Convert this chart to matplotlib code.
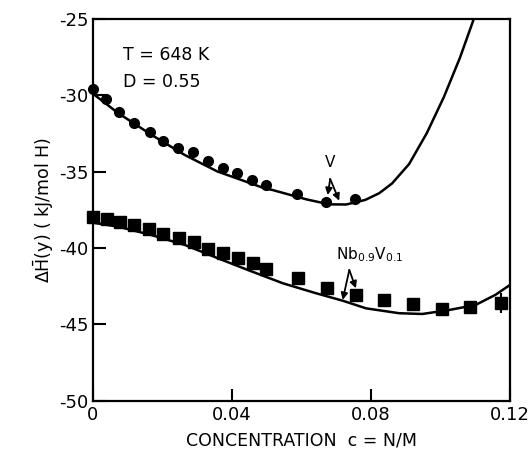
import numpy as np
import matplotlib
matplotlib.use("Agg")
import matplotlib.pyplot as plt

# measured points, V
v_c = [0, 0.0037, 0.0076, 0.0119, 0.0166, 0.0202, 0.0245, 0.0288, 0.0333, 0.0374,
       0.0415, 0.0459, 0.0499, 0.0587, 0.0671, 0.0754]
v_h = [-29.60, -30.26, -31.07, -31.79, -32.42, -32.97, -33.47, -33.73, -34.30, -34.78,
       -35.07, -35.54, -35.90, -36.46, -37.00, -36.81]

# measured points, Nb0.9V0.1
nb_c = [0, 0.004, 0.008, 0.0119, 0.0162, 0.0202, 0.0247, 0.029, 0.0331, 0.0374, 0.0417,
        0.046, 0.0498, 0.059, 0.0673, 0.0757, 0.0838, 0.0921, 0.1004, 0.1084, 0.1173]
nb_h = [-37.95, -38.12, -38.27, -38.49, -38.77, -39.08, -39.36, -39.58, -40.08, -40.30, -40.67,
        -40.96, -41.36, -41.98, -42.64, -43.07, -43.40, -43.68, -44.01, -43.84, -43.60]
nb_err_c = [0.1173]
nb_err_h = [-43.60]
nb_err = [0.65]

# calculated curves
v_fit_c = [0, 0.0073, 0.017, 0.0265, 0.0359, 0.0422, 0.0494, 0.0517, 0.0614, 0.068, 0.0729,
           0.0784, 0.0824, 0.0861, 0.091, 0.0961, 0.101, 0.1056, 0.1096]
v_fit_h = [-29.88, -31.16, -32.60, -33.91, -34.99, -35.50, -36.09, -36.20, -36.81, -37.14, -37.15,
           -36.85, -36.41, -35.77, -34.50, -32.47, -30.11, -27.55, -25.0]

nb_fit_c = [0, 0.0073, 0.0169, 0.0265, 0.036, 0.0451, 0.0547, 0.0642, 0.0719, 0.0786, 0.0881,
            0.0948, 0.1025, 0.1101, 0.1158, 0.12]
nb_fit_h = [-38.34, -38.60, -39.15, -39.80, -40.67, -41.48, -42.31, -42.96, -43.45, -43.95, -44.27,
            -44.32, -44.06, -43.73, -43.07, -42.42]

fig = plt.figure(figsize=(5.29, 4.54), dpi=100)
ax = fig.add_axes([0.1752, 0.1174, 0.7888, 0.8408])

ax.plot(v_fit_c, v_fit_h, color='black', lw=1.8)
ax.plot(nb_fit_c, nb_fit_h, color='black', lw=1.8)
ax.plot(v_c, v_h, 'o', color='black', markersize=7, clip_on=False)
ax.plot(nb_c, nb_h, 's', color='black', markersize=8, clip_on=False)
ax.errorbar(nb_err_c, nb_err_h, yerr=nb_err, fmt='none', ecolor='black', elinewidth=1.5, capsize=0)

ax.set_xlim(0, 0.12)
ax.set_ylim(-50, -25)
ax.set_xticks([0, 0.04, 0.08, 0.12])
ax.set_xticklabels(['0', '0.04', '0.08', '0.12'])
ax.set_yticks([-50, -45, -40, -35, -30, -25])
ax.set_yticklabels(['-50', '-45', '-40', '-35', '-30', '-25'])
ax.tick_params(direction='in', length=9, width=1.5, labelsize=13, colors='black')
ax.tick_params(axis='x', pad=4)
ax.tick_params(axis='y', pad=3)
for s in ax.spines.values():
    s.set_linewidth(1.6)

ax.set_xlabel('CONCENTRATION  c = N/M', fontsize=12.5, labelpad=5)
ax.set_ylabel(r'$\Delta\bar{\mathrm{H}}$(y) ( kJ/mol H)', fontsize=12.5, labelpad=2)

ax.text(0.0087, -27.36, 'T = 648 K', fontsize=12.5, va='center')
ax.text(0.0087, -29.13, 'D = 0.55', fontsize=12.5, va='center')

arrow = dict(arrowstyle='-|>', color='black', lw=1.3, mutation_scale=10, shrinkA=0, shrinkB=0)
ax.text(0.0683, -34.43, 'V', fontsize=11, ha='center', va='center')
ax.annotate('', xy=(0.0676, -36.53), xytext=(0.0683, -35.48), arrowprops=arrow)
ax.annotate('', xy=(0.0709, -36.90), xytext=(0.0683, -35.48), arrowprops=arrow)

ax.text(0.0795, -40.45, r'Nb$_{0.9}$V$_{0.1}$', fontsize=11, ha='center', va='center')
ax.annotate('', xy=(0.0719, -43.40), xytext=(0.0738, -41.44), arrowprops=arrow)
ax.annotate('', xy=(0.0757, -42.64), xytext=(0.0738, -41.44), arrowprops=arrow)

fig.savefig('out.png', dpi=100)
